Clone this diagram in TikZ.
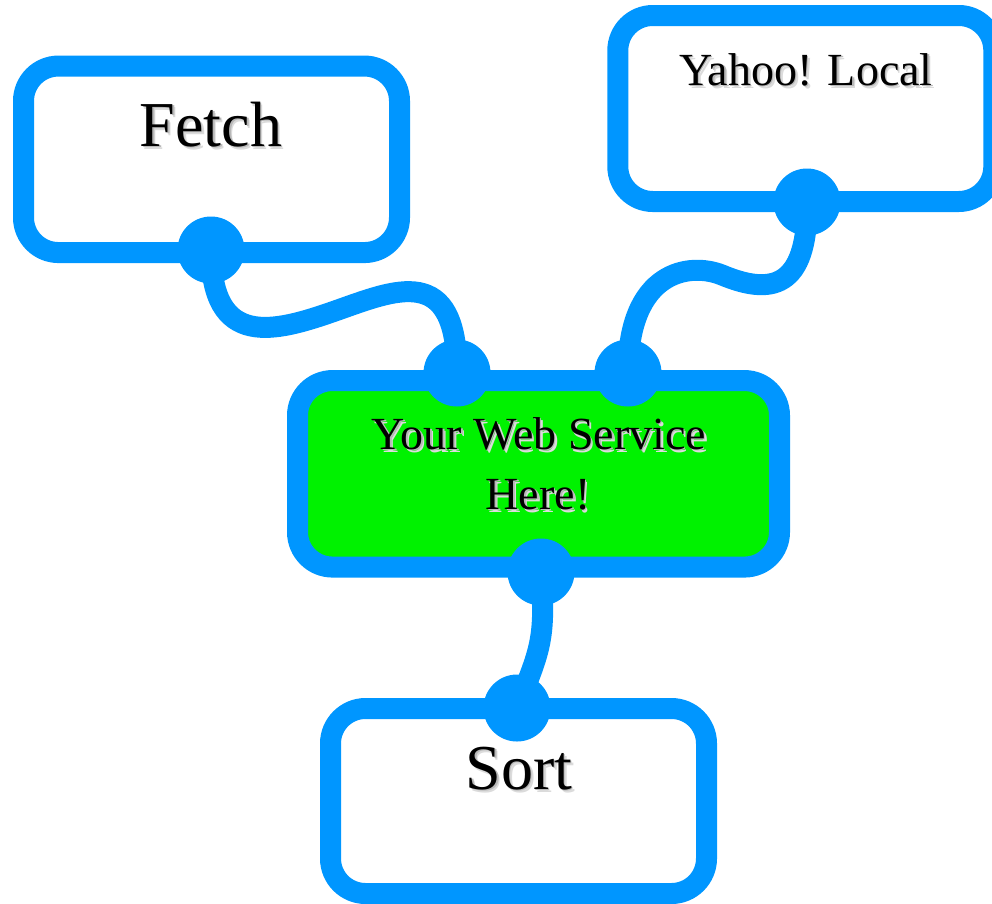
\documentclass[tikz,border=0pt]{standalone}
\usepackage{fontspec}
\setmainfont{Liberation Serif}
\definecolor{wireblue}{RGB}{0,150,255}
\definecolor{boxgreen}{RGB}{0,242,0}
\newcommand\shd[1]{\leavevmode\rlap{\hspace{2.8pt}\raisebox{-3.2pt}{\color{black!14}#1}}\rlap{\hspace{1.4pt}\raisebox{-1.6pt}{\color{black!28}#1}}#1}
\tikzset{
  modbox/.style={draw=wireblue, line width=21pt, rounded corners=35pt, fill=white,
    rectangle, inner sep=0pt, outer sep=0pt},
  port/.style={circle, fill=wireblue, draw=none, minimum size=67pt, inner sep=0pt},
  wire/.style={draw=wireblue, line width=21pt},
  bigtxt/.style={anchor=base, inner sep=0pt, font=\fontsize{64}{70}\selectfont},
  midtxt/.style={anchor=base, inner sep=0pt, font=\fontsize{46}{52}\selectfont},
}
\begin{document}
\begin{tikzpicture}[x=1pt, y=-1pt]
\useasboundingbox (0,0) rectangle (992,903);
% boxes
\node[modbox, minimum width=376pt, minimum height=186.5pt] (fetch) at (211.5,159.3) {};
\node[modbox, minimum width=376pt, minimum height=186pt] (yahoo) at (805.8,108.5) {};
\node[modbox, fill=boxgreen, minimum width=482pt, minimum height=186.5pt] (web) at (538.5,473.8) {};
\node[modbox, minimum width=376pt, minimum height=185pt] (sort) at (518.5,801) {};
% labels
\node[bigtxt] (fetchlbl) at (211,146) {\shd{Fetch}};
\node[midtxt] (yahoolbl) at (806,85) {\shd{Yahoo! Local}};
\node[midtxt] (weblbla) at (539,449) {\shd{Your Web Service}};
\node[midtxt] (weblblb) at (538,509) {\shd{Here!}};
\node[bigtxt] (sortlbl) at (519,789) {\shd{Sort}};
% port positions
\coordinate (pfetch) at (211,250);
\coordinate (pyahoo) at (807,202);
\coordinate (pweba) at (457,373);
\coordinate (pwebb) at (628,373);
\coordinate (pwebc) at (541,572);
\coordinate (psort) at (517,708);
\coordinate (mida) at (335,311);
\coordinate (midb) at (722,275);
% connectors
\draw[wire] (pfetch) .. controls (211,350) and (275,332) .. (mida)
   .. controls (395,290) and (457,262) .. (pweba);
\draw[wire] (pyahoo) .. controls (808,290) and (770,295) .. (midb)
   .. controls (690,262) and (628,270) .. (pwebb);
\draw[wire] (pwebc) .. controls (546,640) and (540,650) .. (psort);
% ports
\node[port] (fetchout) at (pfetch) {};
\node[port] (yahooout) at (pyahoo) {};
\node[port] (webina) at (pweba) {};
\node[port] (webinb) at (pwebb) {};
\node[port] (webout) at (pwebc) {};
\node[port] (sortin) at (psort) {};
\end{tikzpicture}
\end{document}
